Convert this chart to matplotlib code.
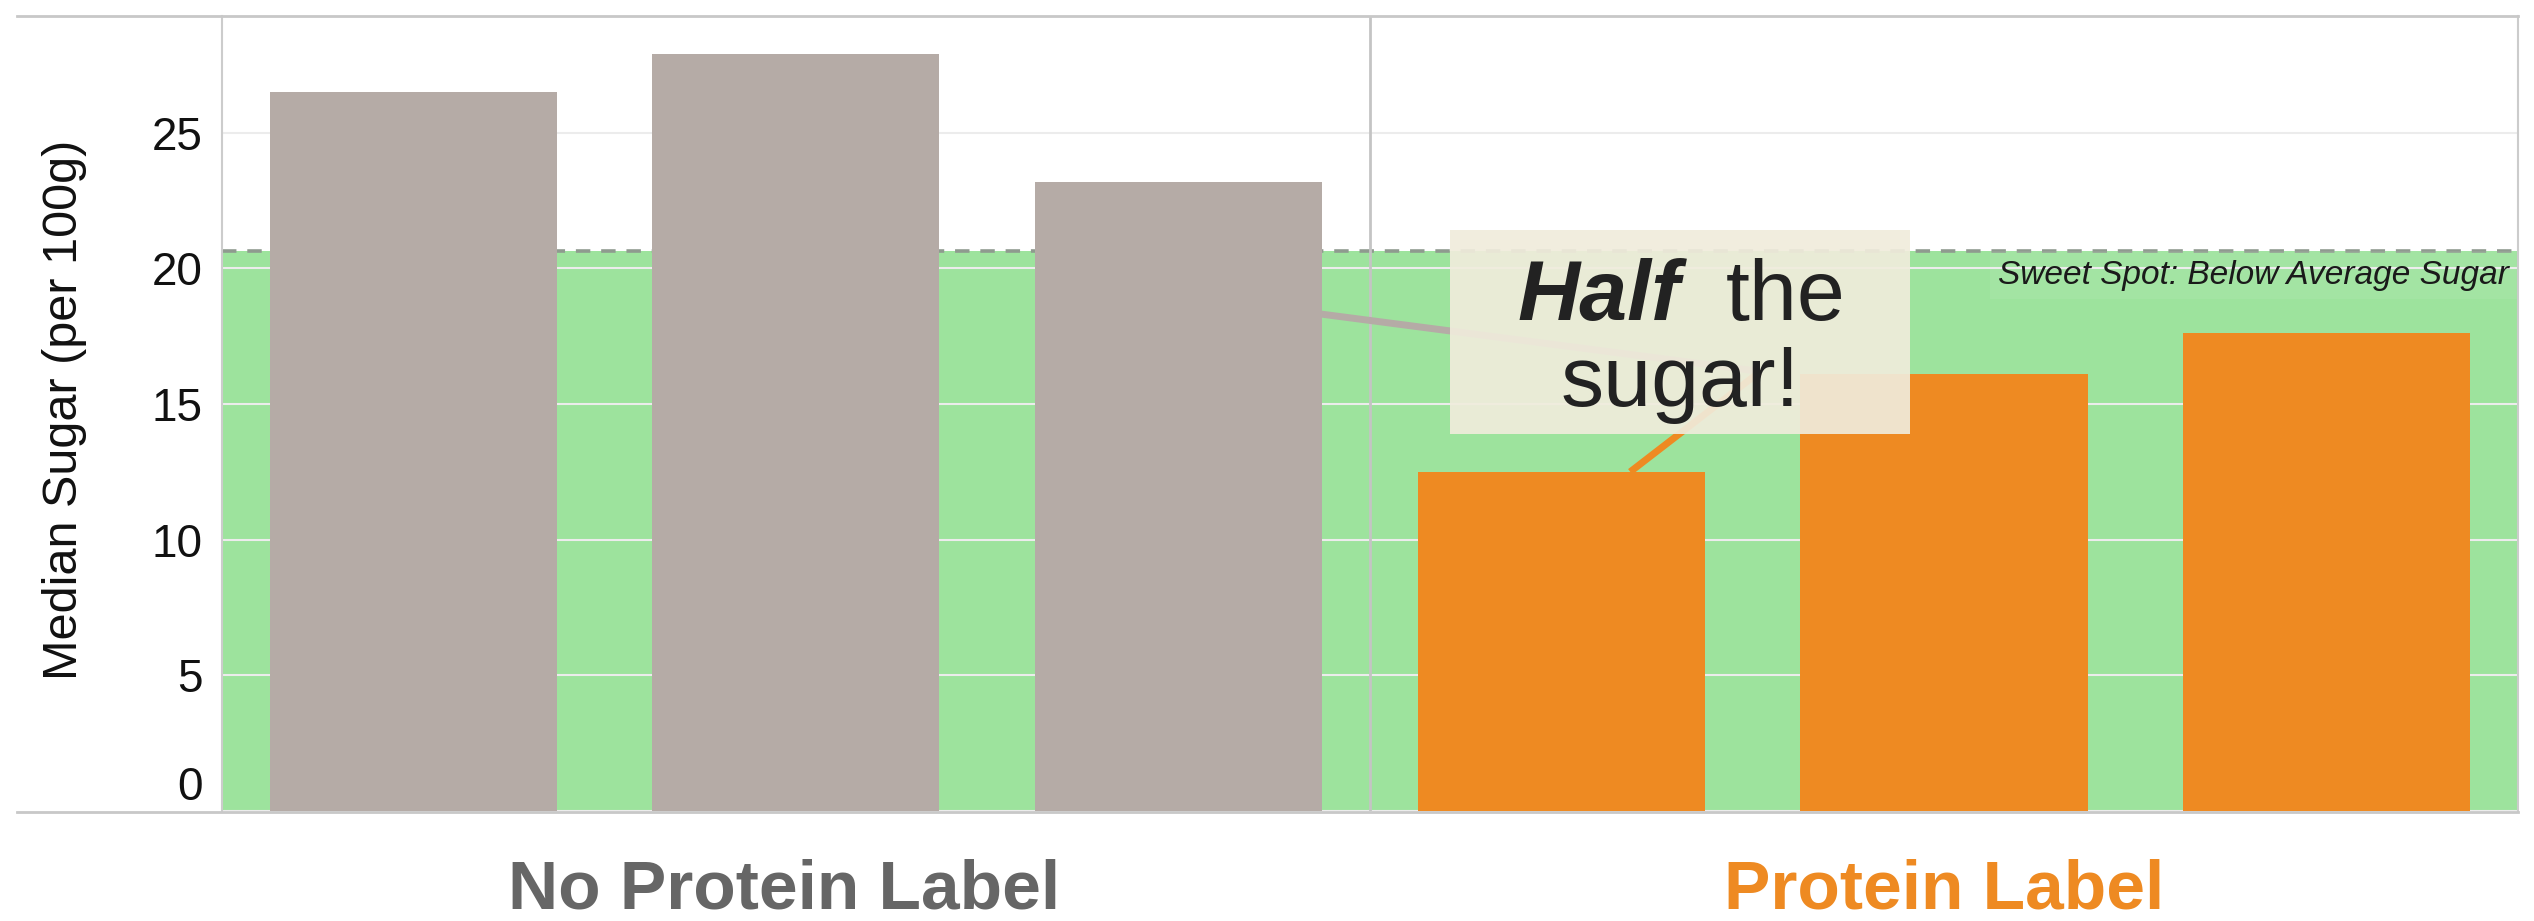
import numpy as np
import matplotlib.pyplot as plt
from matplotlib.patches import Rectangle
from matplotlib.lines import Line2D
from matplotlib.transforms import blended_transform_factory, ScaledTranslation

plt.rcParams['font.family'] = ['Liberation Sans', 'DejaVu Sans']

# median sugar (g per 100g)
groups = ['No Protein Label', 'Protein Label']
no_protein_sugar = [26.5, 27.9, 23.2]
protein_sugar = [12.5, 16.1, 17.6]
yticks = [0, 5, 10, 15, 20, 25]

gray = '#b5aba6'
orange = '#ee8a22'
green = '#9de39d'

sugar = no_protein_sugar + protein_sugar
x = np.arange(len(sugar))
n1 = len(no_protein_sugar)
avg = np.mean(sugar)

W, H = 2534, 921
fig = plt.figure(figsize=(W / 100, H / 100), dpi=100)
ax = fig.add_axes([222 / W, 1 - 811 / H, (2518 - 222) / W, (811 - 16) / H])

# sweet spot band + average line
ax.axhspan(0, avg, color=green, lw=0, zorder=0.2)
ax.axhline(avg, color='#8f9a8f', ls=(0, (4, 3)), lw=2.6, zorder=0.6)

colors = [gray] * n1 + [orange] * len(protein_sugar)
ax.bar(x, sugar, width=0.75, color=colors, zorder=2)
ax.axvline(n1 - 0.5, color='#c4c4c4', lw=2, zorder=1)

# callout
cx, cy = 3.31, 17.65
tx, ty = 3.52, 16.2
ax.plot([2.0, tx], [19.0, ty], color=gray, lw=5, solid_capstyle='butt', zorder=1.5)
ax.plot([3.18, tx], [protein_sugar[0], ty], color=orange, lw=5, solid_capstyle='butt', zorder=1.5)
ax.add_patch(Rectangle((2.71, 13.9), 1.2, 7.5, facecolor='#f0ecdc', alpha=0.92, lw=0, zorder=3))
ax.annotate('Half', xy=(cx, cy), xytext=(0, 9), textcoords='offset points', ha='right', va='baseline',
            fontsize=62, fontweight='bold', fontstyle='italic', color='#222222', zorder=4)
ax.annotate('the', xy=(cx, cy), xytext=(33, 9), textcoords='offset points', ha='left', va='baseline',
            fontsize=62, color='#222222', zorder=4)
ax.annotate('sugar!', xy=(cx, cy), xytext=(0, -53), textcoords='offset points', ha='center', va='baseline',
            fontsize=62, color='#222222', zorder=4)

ax.text(0.996, avg - 1.2, 'Sweet Spot: Below Average Sugar',
        transform=blended_transform_factory(ax.transAxes, ax.transData),
        ha='right', va='baseline', fontsize=24, fontstyle='italic', color='#1a1a1a', zorder=2.5,
        bbox=dict(boxstyle='square,pad=0.25', fc='white', alpha=0.07, ec='none'))

ax.set_xlim(-0.5, len(sugar) - 0.5)
ax.set_ylim(0, 29.3)
ax.set_xticks([])
ax.set_yticks(yticks)
ax.tick_params(axis='y', length=0, pad=14, labelsize=33, labelcolor='#111111')
ax.yaxis.grid(True, color='#ececec', lw=1.5)
ax.set_axisbelow(True)

lab0 = ax.get_yticklabels()[0]
lab0.set_transform(lab0.get_transform() + ScaledTranslation(0, 0.28, fig.dpi_scale_trans))

for s in ['top', 'bottom']:
    ax.spines[s].set_visible(False)
for s in ['left', 'right']:
    ax.spines[s].set_color('#cccccc')
    ax.spines[s].set_linewidth(1.5)

for yy in [1 - 16 / H, 1 - 812 / H]:
    fig.add_artist(Line2D([17 / W, 2518 / W], [yy, yy], color='#c8c8c8', lw=2, transform=fig.transFigure))

fig.text(65 / W, 1 - 410 / H, 'Median Sugar (per 100g)', rotation=90, ha='center', va='center',
         fontsize=35, color='#111111')

tr = blended_transform_factory(ax.transData, fig.transFigure)
ax.text(np.mean(x[:n1]) - 0.03, 1 - 908 / H, groups[0], transform=tr, ha='center', va='baseline',
        fontsize=50, fontweight='bold', color='#666666')
ax.text(np.mean(x[n1:]), 1 - 908 / H, groups[1], transform=tr, ha='center', va='baseline',
        fontsize=50, fontweight='bold', color=orange)

fig.savefig('out.png', dpi=100)
